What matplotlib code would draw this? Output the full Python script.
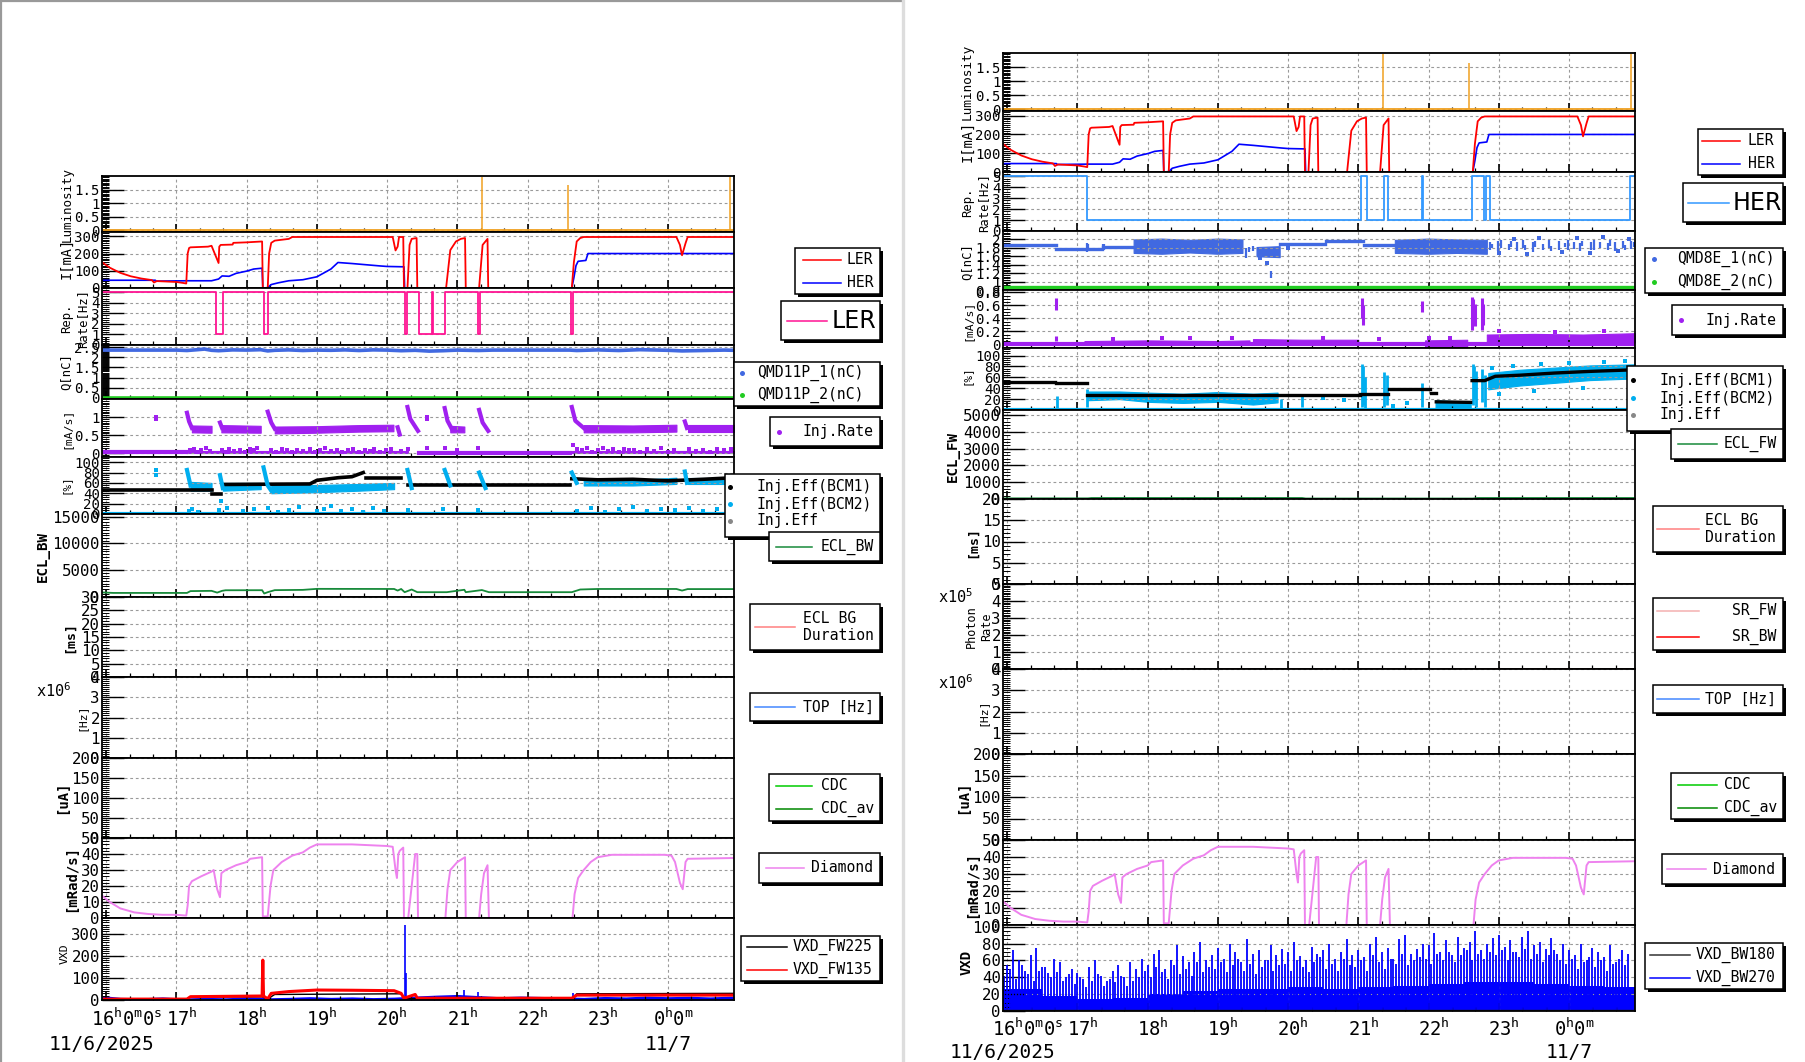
import numpy as np
import matplotlib
matplotlib.use('Agg')
import matplotlib.pyplot as plt
from matplotlib.patches import Rectangle
from matplotlib.ticker import FixedLocator, AutoMinorLocator, MultipleLocator, FuncFormatter

plt.rcParams['font.family'] = ['DejaVu Sans Mono', 'DejaVu Sans']
plt.rcParams['mathtext.default'] = 'regular'

W, H = 1806, 1062
T0, T1 = 15.94, 24.94   # hours, 24.x = after midnight of 11/6

# ---------------- data (time [h], value) ----------------
lum_base = [(15.94, 0.0), (24.94, 0.0)]
lum_spike_t = [21.35, 22.58, 24.88]
lum_spike_v = [1.95, 1.65, 1.95]

ler = [(15.94,150),(16.05,118),(16.2,88),(16.35,68),(16.5,55),(16.65,46),(16.68,32),(16.72,40),
       (17.0,35),(17.1,29),(17.14,26),(17.16,200),(17.18,232),(17.2,236),(17.45,240),(17.5,245),
       (17.55,195),(17.6,145),(17.61,240),(17.63,250),(17.8,252),(17.81,262),(18.0,265),(18.22,270),
       (18.23,0),(18.3,0),(18.32,200),(18.35,262),(18.4,275),(18.6,285),(18.65,296),(20.08,296),
       (20.12,218),(20.15,240),(20.17,296),(20.23,296),(20.24,0),(20.29,0),(20.32,250),(20.35,285),
       (20.42,290),(20.43,0),(20.84,0),(20.9,220),(20.98,270),(21.05,285),(21.11,290),(21.12,0),
       (21.31,0),(21.36,250),(21.43,285),(21.44,0),(22.63,0),(22.66,150),(22.7,270),(22.75,290),
       (22.8,296),(24.12,296),(24.17,250),(24.2,190),(24.25,260),(24.28,296),(24.94,296)]
her = [(15.94,45),(16.7,45),(16.71,40),(17.15,42),(17.5,42),(17.6,52),(17.65,70),(17.75,68),
       (17.85,85),(18.0,98),(18.1,110),(18.22,115),(18.23,0),(18.3,2),(18.35,20),(18.45,30),
       (18.6,42),(18.8,48),(19.0,65),(19.2,110),(19.3,148),(19.5,142),(19.9,128),(20.0,125),
       (20.24,123),(20.25,0),(22.63,0),(22.66,60),(22.69,130),(22.72,155),(22.83,160),(22.86,200),
       (24.94,200)]

rep_ler = [(15.94,5),(17.56,1),(17.66,5),(18.24,1),(18.31,5),(20.26,1),(20.29,5),(20.45,1),(20.64,5),
           (20.66,1),(20.82,5),(21.30,1),(21.32,5),(22.62,1),(22.65,5),(24.94,5)]
rep_her = [(15.94,5),(17.13,1),(21.04,5),(21.12,1),(21.37,5),(21.42,1),(21.90,5),(21.92,1),(22.62,5),
           (22.79,1),(22.82,5),(22.87,1),(24.87,5),(24.94,5)]

# QMD11P (left)
qmd11p_1 = [(15.94,2.35),(16.5,2.35),(17.0,2.35),(17.15,2.33),(17.3,2.37),(17.4,2.40),(17.5,2.34),
            (17.6,2.32),(17.8,2.36),(18.0,2.35),(18.2,2.37),(18.3,2.31),(18.4,2.34),(18.6,2.36),
            (18.8,2.33),(19.0,2.35),(19.2,2.34),(19.4,2.36),(19.6,2.33),(19.8,2.36),(20.0,2.35),
            (20.2,2.32),(20.4,2.34),(20.6,2.30),(20.8,2.32),(21.0,2.35),(21.3,2.33),(21.5,2.35),
            (22.0,2.35),(22.6,2.35),(22.7,2.33),(23.0,2.36),(23.3,2.33),(23.6,2.37),(24.0,2.34),
            (24.2,2.31),(24.5,2.33),(24.8,2.35),(24.94,2.34)]
qmd11p_2 = [(15.94,0.0),(24.94,0.0)]

# QMD8E (right)
qmd8e_1_lines = [[(15.94,1.86),(16.69,1.86)], [(16.70,1.78),(17.35,1.78)], [(17.36,1.82),(17.80,1.82)],
                 [(19.88,1.89),(20.53,1.89)], [(20.54,1.96),(21.07,1.96)], [(21.08,1.86),(21.52,1.86)]]
qmd8e_1_bands = [[(17.80,1.68,2.00),(18.2,1.66,2.02),(18.6,1.69,1.99),(19.0,1.66,2.02),(19.35,1.68,2.00)],
                 [(19.55,1.60,1.82),(19.88,1.58,1.84)],
                 [(21.52,1.68,1.99),(22.0,1.66,2.02),(22.4,1.68,2.00),(22.83,1.66,1.99)]]
qmd8e_1_strokes = [(17.13,1.70,1.92),(17.15,1.72,1.88),(17.36,1.74,1.90),(17.38,1.76,1.88),(19.40,1.55,1.80),
                   (19.45,1.70,1.82),(19.50,1.72,1.84),(19.76,1.08,1.25),(22.88,1.75,1.95),(22.91,1.80,1.90),
                   (22.99,1.72,1.96),(23.03,1.80,1.98),(23.14,1.74,1.90),(23.17,1.82,1.96),(23.26,1.72,1.93),
                   (23.35,1.80,1.98),(23.38,1.75,1.86),(23.49,1.70,1.95),(23.52,1.82,1.97),(23.63,1.74,1.90),
                   (23.71,1.80,1.99),(23.74,1.72,1.84),(23.86,1.76,1.96),(23.95,1.82,1.92),(23.98,1.74,1.98),
                   (24.07,1.78,1.95),(24.16,1.72,1.92),(24.19,1.84,1.97),(24.31,1.76,1.94),(24.36,1.74,1.99),
                   (24.44,1.80,1.95),(24.55,1.75,1.92),(24.58,1.84,1.98),(24.66,1.72,1.95),(24.77,1.80,1.97),
                   (24.80,1.76,1.86),(24.88,1.78,1.96),(24.92,1.82,1.94)]
qmd8e_1_pts = [(19.6,1.55),(19.7,1.45),(23.0,1.68),(23.4,1.65),(23.9,1.70),(24.3,1.68),(24.7,1.72),(20.0,1.80),
               (23.21,2.02),(23.58,2.04),(24.12,2.03),(24.49,2.05),(24.85,2.02)]
qmd8e_2 = [(15.94,0.86),(24.94,0.86)]

# Injection rate LER (left)
irl_low_lines = [[(15.94,0.03),(17.14,0.03)], [(20.45,0.02),(22.60,0.02)]]
irl_bands = [[(17.22,0.58,0.77),(17.50,0.57,0.76)],
             [(17.64,0.58,0.78),(18.20,0.57,0.76)],
             [(18.40,0.55,0.74),(19.0,0.57,0.75),(19.6,0.60,0.78),(20.09,0.61,0.79)],
             [(20.90,0.58,0.76),(21.10,0.58,0.74)],
             [(22.80,0.58,0.78),(23.5,0.58,0.77),(24.12,0.60,0.79)],
             [(24.28,0.60,0.79),(24.94,0.60,0.79)],
             [(17.15,0.0,0.06),(20.30,0.0,0.06)],
             [(22.63,0.0,0.07),(24.94,0.0,0.07)]]
irl_decays = [[(17.15,1.12),(17.18,0.88),(17.22,0.70)], [(17.62,0.85),(17.65,0.70)],
              [(18.30,1.15),(18.35,0.85),(18.40,0.68)], [(20.15,0.72),(20.18,0.52)],
              [(20.29,1.28),(20.33,0.95),(20.44,0.62)], [(20.82,1.25),(20.86,0.90),(20.92,0.68)],
              [(21.31,1.20),(21.36,0.85),(21.44,0.62)], [(22.63,1.28),(22.68,0.90),(22.80,0.70)],
              [(24.24,0.88),(24.27,0.70)]]
irl_pts = [(16.71,1.0),(16.71,0.94),(20.57,1.0),(20.57,0.94),
           (17.2,0.08),(17.25,0.12),(17.3,0.05),(17.35,0.10),(17.42,0.14),(17.48,0.06),(17.65,0.10),
           (17.7,0.04),(17.75,0.12),(17.82,0.07),(17.9,0.10),(17.97,0.05),(18.05,0.13),(18.1,0.08),
           (18.15,0.16),(18.35,0.10),(18.42,0.05),(18.5,0.12),(18.57,0.08),(18.65,0.03),(18.72,0.10),
           (18.8,0.06),(18.9,0.12),(18.97,0.04),(19.05,0.09),(19.12,0.14),(19.2,0.06),(19.28,0.10),
           (19.36,0.03),(19.45,0.08),(19.52,0.13),(19.6,0.05),(19.68,0.10),(19.75,0.07),(19.82,0.12),
           (19.9,0.04),(19.98,0.09),(20.05,0.11),(20.2,0.06),(20.3,0.12),(20.57,0.15),(20.82,0.14),
           (21.0,0.08),(21.3,0.14),(22.65,0.22),(22.7,0.12),(22.78,0.08),(22.85,0.14),(22.92,0.05),
           (23.0,0.10),(23.08,0.16),(23.15,0.06),(23.22,0.11),(23.3,0.03),(23.38,0.13),(23.45,0.08),
           (23.52,0.10),(23.6,0.04),(23.7,0.12),(23.8,0.07),(23.9,0.14),(24.0,0.05),(24.08,0.10),
           (24.3,0.12),(24.4,0.06),(24.5,0.10),(24.6,0.04),(24.7,0.13),(24.8,0.08),(24.9,0.11)]

# Injection rate HER (right)
irr_line = [(15.94,0.01),(24.94,0.01)]
irr_bands = [[(17.10,0.0,0.05),(18.0,0.0,0.06),(19.0,0.0,0.05),(19.45,0.0,0.06)],
             [(19.50,0.01,0.08),(20.2,0.01,0.07),(21.0,0.02,0.07)],
             [(21.95,-0.03,0.06),(22.55,-0.03,0.07)],
             [(22.83,0.02,0.15),(23.5,0.03,0.16),(24.2,0.02,0.15),(24.94,0.03,0.17)]]
irr_strokes = [(16.70,0.53,0.71),(16.70,0.05,0.12),(21.05,0.40,0.71),(21.07,0.30,0.60),(21.90,0.50,0.66),
               (22.62,0.22,0.73),(22.64,0.35,0.70),(22.66,0.28,0.62),(22.76,0.22,0.71),(22.78,0.30,0.62)]
irr_pts = [(17.5,0.08),(18.2,0.10),(18.6,0.09),(19.2,0.10),(20.5,0.10),(21.3,0.08),(22.0,0.10),
           (22.3,0.09),(23.0,0.20),(23.8,0.19),(24.5,0.20)]

# Injection efficiency LER (left)
effl_bcm1 = [[(15.94,47),(17.50,47)], [(17.51,39),(17.64,39)],
             [(17.66,57),(18.9,58),(19.0,65),(19.3,70),(19.5,72),(19.66,80)],
             [(19.70,70),(20.20,70)], [(20.30,56),(22.61,56)],
             [(22.63,68),(23.0,66),(23.5,67),(24.0,64),(24.5,67),(24.94,70)]]
effl_bcm2_bands = [[(17.20,45,62),(17.50,45,60)], [(17.66,45,60),(18.20,48,60)],
                   [(18.35,40,55),(19.0,42,56),(19.6,45,58),(20.10,48,60)],
                   [(22.80,55,66),(23.5,55,66),(24.12,58,70)], [(24.28,58,70),(24.94,58,70)]]
effl_bcm2_decays = [[(17.15,85),(17.20,55)], [(17.62,75),(17.66,50)], [(18.24,90),(18.30,55),(18.35,45)],
                    [(20.29,85),(20.35,50)], [(20.82,85),(20.90,55)], [(21.31,80),(21.40,50)],
                    [(22.63,80),(22.70,60)], [(24.24,82),(24.27,60)]]
effl_bcm2_low = [(16.71,85),(16.71,76),(17.64,25),(17.18,5),(17.22,10),(17.3,3),(17.6,8),(17.72,12),
                 (17.95,6),(18.1,9),(18.3,12),(18.45,4),(18.6,8),(18.75,14),(19.0,6),(19.1,10),(19.2,16),
                 (19.35,5),(19.5,9),(19.65,4),(19.8,12),(19.95,6),(20.3,8),(20.8,10),(21.3,8),(22.7,6),
                 (22.9,12),(23.1,4),(23.3,9),(23.5,14),(23.7,5),(23.9,10),(24.1,7),(24.3,12),(24.5,5),
                 (24.7,9),(24.85,13)]
effl_base = [(15.94,0.8),(24.94,0.8)]

# Injection efficiency HER (right)
effr_bcm1 = [[(15.94,52),(16.68,52)], [(16.69,50),(17.13,50)], [(17.14,28),(21.02,28)],
             [(21.03,30),(21.42,30)], [(21.43,39),(22.02,39)], [(22.03,31),(22.10,31)],
             [(22.11,15),(22.60,14)],
             [(22.62,54),(22.80,54),(22.95,62),(23.3,64),(23.8,68),(24.3,71),(24.94,74)]]
effr_bcm2_bands = [[(17.15,18,34),(17.6,20,34),(18.0,15,32),(18.5,13,30),(19.0,15,33),(19.5,10,30),(19.85,14,32)],
                   [(22.10,1,18),(22.60,1,15)],
                   [(22.85,38,68),(23.3,45,74),(23.8,50,78),(24.3,55,82),(24.94,58,84)]]
effr_bcm2_strokes = [(16.71,0,25),(17.14,5,38),(19.9,2,20),(20.2,5,25),(21.05,5,85),(21.07,10,80),
                     (21.09,3,60),(21.37,5,70),(21.41,10,65),(21.91,5,50),(22.63,10,85),(22.65,20,80),
                     (22.68,5,72),(22.76,15,76),(22.80,5,65)]
effr_bcm2_pts = [(22.9,78),(23.2,80),(23.6,84),(24.0,86),(24.5,88),(24.8,90),(23.0,30),(23.5,35),(24.2,40),
                 (20.5,22),(20.8,18),(21.5,8),(21.7,12)]
effr_base = [(15.94,0.8),(24.94,0.8)]

ecl_bw = [(15.94,850),(16.1,760),(17.15,760),(17.2,1100),(17.5,1150),(17.58,820),(17.65,1150),(17.7,1260),
          (18.22,1270),(18.25,650),(18.3,900),(18.4,1280),(18.8,1330),(19.0,1520),(20.1,1500),(20.15,1200),
          (20.2,1500),(20.25,900),(20.35,1400),(20.43,900),(20.85,900),(21.1,1350),(21.12,900),(21.35,1300),
          (21.45,900),(22.63,900),(22.75,1400),(23.0,1500),(24.12,1500),(24.2,1200),(24.28,1480),(24.94,1480)]
ecl_fw = [(15.94,40),(17.15,40),(17.2,60),(20.2,60),(20.25,30),(22.63,30),(22.7,60),(24.94,60)]
sr_bw = [(15.94,0.0),(24.94,0.0)]
cdc_av = [(15.94,0.0),(24.94,0.0)]

diamond = [(15.94,14),(16.05,10),(16.2,6),(16.4,3.5),(16.6,2.5),(16.8,2),(17.0,2),(17.14,1.5),(17.16,8),
           (17.18,20),(17.22,23),(17.35,26),(17.5,29),(17.53,30),(17.58,18),(17.62,13),(17.64,28),(17.7,30),
           (17.85,33),(18.0,35),(18.05,37),(18.22,38),(18.23,1),(18.3,1),(18.34,20),(18.38,30),(18.5,35),
           (18.65,39),(18.8,41),(18.9,44),(19.0,46),(19.5,46),(20.0,45),(20.08,44.5),(20.12,30),(20.14,25),
           (20.16,40),(20.18,42),(20.23,44),(20.24,0),(20.3,0),(20.35,20),(20.4,40),(20.43,40),(20.44,0),
           (20.83,0),(20.86,18),(20.9,30),(21.0,35),(21.11,38),(21.12,0),(21.31,0),(21.34,15),(21.38,28),
           (21.43,33),(21.45,0),(22.64,0),(22.67,15),(22.72,25),(22.8,30),(22.9,35),(23.0,38),(23.2,39.5),
           (23.95,39.5),(24.05,39),(24.1,35),(24.17,22),(24.21,18),(24.25,35),(24.28,37),(24.94,37.5)]

# VXD (left)
vxd_l_blue = [(15.94,20),(16.2,12),(16.5,10),(16.8,14),(17.1,9),(17.4,12),(17.7,10),(18.0,14),(18.3,10),
              (18.6,12),(18.9,15),(19.2,12),(19.5,14),(19.8,11),(20.1,13),(20.4,18),(20.7,22),(21.0,25),
              (21.3,20),(21.6,15),(21.9,18),(22.2,16),(22.5,14),(22.8,12),(23.1,16),(23.4,14),(23.7,18),
              (24.0,15),(24.3,17),(24.6,14),(24.94,18)]
vxd_l_blue_spikes = [(20.25,340),(20.27,120),(18.24,40),(21.1,45),(21.3,35),(22.65,30)]
vxd_fw135 = [(15.94,4),(17.15,4),(17.2,15),(18.22,18),(18.23,180),(18.24,18),(18.3,5),(18.35,30),(18.6,38),
             (19.0,45),(19.5,44),(20.1,42),(20.2,30),(20.24,8),(20.4,25),(20.43,8),(22.63,8),(22.7,22),(24.94,22)]
vxd_fw225 = [(15.94,6),(17.15,6),(17.2,14),(18.22,14),(18.3,5),(18.4,25),(20.2,28),(20.25,6),(22.63,6),
             (22.7,28),(24.94,30)]

# VXD (right): BW270 spikes every 5 min from 16:00 (two interleaved sets), plus base level
vxd_bw270_peak = [55,72,60,48,66,75,52,45,62,58,40,50,
                  45,38,52,60,42,35,48,55,40,58,50,62,
                  55,68,72,50,60,78,65,58,70,82,60,66,
                  75,62,80,70,58,85,68,72,60,78,66,74,
                  70,82,65,60,76,68,72,80,62,70,85,66,
                  72,64,80,88,70,75,62,85,90,68,74,80,
                  78,92,70,84,66,88,75,82,95,72,80,86,
                  90,76,84,70,88,95,78,82,74,86,68,80,
                  72,66,80,60,75,70,64,78,58,72,68]
vxd_bw270_mid = [42,50,38,55,44,36,48,52,40,46,35,44,
                 32,40,28,36,44,30,38,34,42,30,36,40,
                 48,40,52,46,38,55,44,50,42,58,46,52,
                 50,58,46,54,62,48,56,44,52,60,48,54,
                 56,48,60,52,46,58,64,50,56,48,62,54,
                 52,60,48,66,58,50,62,56,68,54,60,64,
                 62,56,68,60,70,58,66,72,60,68,62,70,
                 66,72,60,70,64,74,62,68,58,66,72,60,
                 56,62,50,58,64,52,60,48,56,62,54]
vxd_bw270_base = [(15.94,26),(16.5,18),(17.0,14),(17.5,16),(18.0,20),(18.5,24),(19.0,26),(19.5,26),
                  (20.0,28),(20.5,26),(21.0,28),(21.5,30),(22.0,32),(22.5,34),(23.0,34),(23.5,32),
                  (24.0,30),(24.5,28),(24.94,26)]
vxd_bw180 = [(15.94,1.5),(24.94,1.5)]

# colours
C_LER, C_HER = '#ff0000', '#0000ff'
C_LUM = '#f0a020'
C_REPL, C_REPH = '#ff1493', '#3399ff'
C_Q1, C_Q2 = '#4169e1', '#22cc22'
C_IR = '#a020f0'
C_CY = '#00aeef'
C_ECL = '#178a3a'
C_DIA = '#ee82ee'

# ---------------- helpers ----------------
fig = plt.figure(figsize=(W / 100, H / 100), dpi=100)


def xy(p):
    a = np.asarray(p, float)
    return a[:, 0], a[:, 1]


def panel(x0, x1, ytop, ybot, ylim, ticks, nminor, fs=10.2):
    ax = fig.add_axes([x0 / W, 1 - ybot / H, (x1 - x0) / W, (ybot - ytop) / H])
    ax.set_xlim(T0, T1)
    ax.set_ylim(*ylim)
    ax.xaxis.set_major_locator(MultipleLocator(1))
    ax.xaxis.set_minor_locator(MultipleLocator(1 / 3))
    ax.yaxis.set_major_locator(FixedLocator(ticks))
    ax.yaxis.set_minor_locator(AutoMinorLocator(nminor))
    ax.yaxis.set_major_formatter(FuncFormatter(lambda v, p: '%g' % round(v, 6)))
    ax.tick_params(axis='x', which='major', direction='in', length=6, width=1.2, labelbottom=False)
    ax.tick_params(axis='x', which='minor', direction='in', length=3, width=0.9)
    ax.tick_params(axis='y', which='major', direction='in', length=15.5, width=1.0, pad=1.5, labelsize=fs)
    ax.tick_params(axis='y', which='minor', direction='in', length=5, width=0.7)
    ax.grid(True, which='major', color='#9a9a9a', linestyle=(0, (2.5, 2.5)), linewidth=0.8)
    for s in ax.spines.values():
        s.set_linewidth(1.3)
    return ax


def line(ax, p, color, lw=1.2, **kw):
    t, v = xy(p)
    ax.plot(t, v, color=color, lw=lw, **kw)


def bands(ax, blist, color):
    for b in blist:
        a = np.asarray(b, float)
        ax.fill_between(a[:, 0], a[:, 1], a[:, 2], color=color, lw=0.8)


def strokes(ax, s, color, lw=2.0):
    a = np.asarray(s, float)
    ax.vlines(a[:, 0], a[:, 1], a[:, 2], color=color, lw=lw)


def pts(ax, p, color, ms=2.3):
    t, v = xy(p)
    ax.plot(t, v, 's', color=color, ms=ms, mew=0)


FS_LOW = 11.3


def draw_column(x0, x1, yb, right):
    # luminosity
    ax = panel(x0, x1, yb[0], yb[1], (-0.07, 2.0), [0, 0.5, 1, 1.5], 10)
    line(ax, lum_base, C_LUM, 1.3)
    ax.vlines(lum_spike_t, 0, lum_spike_v, color=C_LUM, lw=1.1)
    # beam currents
    ax = panel(x0, x1, yb[1], yb[2], (0, 325), [0, 100, 200, 300], 10)
    line(ax, her, C_HER, 1.2)
    line(ax, ler, C_LER, 1.3)
    # repetition rate
    ax = panel(x0, x1, yb[2], yb[3], (0, 5.4), [0, 1, 2, 3, 4, 5], 5)
    t, v = xy(rep_her if right else rep_ler)
    ax.plot(t, v, color=C_REPH if right else C_REPL, lw=1.3, drawstyle='steps-post')
    # bunch charge
    if right:
        ax = panel(x0, x1, yb[3], yb[4], (0.8, 2.2), [0.8, 1.0, 1.2, 1.4, 1.6, 1.8, 2.0], 5)
        for seg in qmd8e_1_lines:
            line(ax, seg, C_Q1, 2.4)
        bands(ax, qmd8e_1_bands, C_Q1)
        strokes(ax, qmd8e_1_strokes, C_Q1, 1.6)
        pts(ax, qmd8e_1_pts, C_Q1)
        line(ax, qmd8e_2, C_Q2, 2.4)
    else:
        ax = panel(x0, x1, yb[3], yb[4], (-0.05, 2.6), [0, 0.5, 1, 1.5, 2, 2.5], 10)
        line(ax, qmd11p_1, C_Q1, 2.6)
        line(ax, qmd11p_2, C_Q2, 2.6)
    # injection rate
    if right:
        ax = panel(x0, x1, yb[4], yb[5], (-0.057, 0.835), [0, 0.2, 0.4, 0.6, 0.8], 4)
        line(ax, irr_line, C_IR, 3.0)
        bands(ax, irr_bands, C_IR)
        strokes(ax, irr_strokes, C_IR, 2.2)
        pts(ax, irr_pts, C_IR)
    else:
        ax = panel(x0, x1, yb[4], yb[5], (-0.1, 1.5), [0, 0.5, 1], 10)
        for seg in irl_low_lines:
            line(ax, seg, C_IR, 3.0)
        bands(ax, irl_bands, C_IR)
        for seg in irl_decays:
            line(ax, seg, C_IR, 3.0)
        pts(ax, irl_pts, C_IR, 2.6)
    # injection efficiency
    if right:
        ax = panel(x0, x1, yb[5], yb[6], (0, 114), [0, 20, 40, 60, 80, 100], 5)
        bands(ax, effr_bcm2_bands, C_CY)
        strokes(ax, effr_bcm2_strokes, C_CY, 2.0)
        pts(ax, effr_bcm2_pts, C_CY, 2.6)
        for seg in effr_bcm1:
            line(ax, seg, 'black', 2.4)
        line(ax, effr_base, C_CY, 3.0)
    else:
        ax = panel(x0, x1, yb[5], yb[6], (0, 110), [0, 20, 40, 60, 80, 100], 5)
        for seg in effl_bcm1:
            line(ax, seg, 'black', 2.6)
        bands(ax, effl_bcm2_bands, C_CY)
        for seg in effl_bcm2_decays:
            line(ax, seg, C_CY, 3.0)
        pts(ax, effl_bcm2_low, C_CY, 2.6)
        line(ax, effl_base, C_CY, 3.0)
    # ECL
    if right:
        ax = panel(x0, x1, yb[6], yb[7], (0, 5300), [0, 1000, 2000, 3000, 4000, 5000], 5, fs=FS_LOW)
        line(ax, ecl_fw, C_ECL, 1.3)
    else:
        ax = panel(x0, x1, yb[6], yb[7], (0, 15500), [0, 5000, 10000, 15000], 10, fs=FS_LOW)
        line(ax, ecl_bw, C_ECL, 1.3)
    k = 7
    # ECL BG duration
    ax = panel(x0, x1, yb[k], yb[k + 1], (0, 20 if right else 30),
               [0, 5, 10, 15, 20] if right else [0, 5, 10, 15, 20, 25, 30], 5, fs=FS_LOW)
    k += 1
    if right:
        ax = panel(x0, x1, yb[k], yb[k + 1], (0, 5), [0, 1, 2, 3, 4, 5], 10, fs=FS_LOW)
        line(ax, sr_bw, '#ff0000', 1.3)
        k += 1
    # TOP
    ax = panel(x0, x1, yb[k], yb[k + 1], (0, 4), [0, 1, 2, 3, 4], 10, fs=FS_LOW)
    k += 1
    # CDC
    ax = panel(x0, x1, yb[k], yb[k + 1], (0, 200), [0, 50, 100, 150, 200], 10, fs=FS_LOW)
    line(ax, cdc_av, '#008800', 2.2)
    k += 1
    # diamond
    ax = panel(x0, x1, yb[k], yb[k + 1], (0, 50), [0, 10, 20, 30, 40, 50], 5, fs=FS_LOW)
    line(ax, diamond, C_DIA, 1.4)
    k += 1
    # VXD
    if right:
        ax = panel(x0, x1, yb[k], yb[k + 1], (0, 102), [0, 20, 40, 60, 80, 100], 4, fs=FS_LOW)
        tb, vb = xy(vxd_bw270_base)
        ax.fill_between(tb, 0, vb, step='post', color='#0000ff', lw=0)
        tp = 16.0 + np.arange(len(vxd_bw270_peak)) / 12.0
        ax.vlines(tp, 0, vxd_bw270_peak, color='#0000ff', lw=1.3)
        ax.vlines(tp - 1 / 24.0, 0, vxd_bw270_mid, color='#0000ff', lw=1.3)
        line(ax, vxd_bw180, '#222222', 1.0)
    else:
        ax = panel(x0, x1, yb[k], yb[k + 1], (0, 370), [0, 100, 200, 300], 10, fs=FS_LOW)
        tb, vb = xy(vxd_l_blue)
        ax.fill_between(tb, 0, vb, color='#0000ff', lw=0)
        t, v = xy(vxd_l_blue_spikes)
        ax.vlines(t, 0, v, color='#0000ff', lw=1.2)
        line(ax, vxd_fw225, 'black', 1.0)
        line(ax, vxd_fw135, '#ff0000', 2.2)


left_bounds = [176, 232, 288, 345, 399, 457, 514, 597, 677, 758, 838, 918, 1000]
right_bounds = [53, 111, 172, 231, 290, 348, 410, 499, 584, 669, 754, 840, 925, 1011]
LX0, LX1 = 102, 734
RX0, RX1 = 1003, 1635
draw_column(LX0, LX1, left_bounds, False)
draw_column(RX0, RX1, right_bounds, True)

# ---------------- overlay: labels, legends, frame ----------------
ov = fig.add_axes([0, 0, 1, 1], zorder=20)
ov.set_xlim(0, W)
ov.set_ylim(H, 0)
ov.axis('off')

ov.plot([1, 1], [0, H], color='#999999', lw=1.6)
ov.plot([0, 903], [1, 1], color='#999999', lw=1.6)
ov.plot([903.5, 903.5], [0, H], color='#dddddd', lw=2.4)


def vlabel(s, x, y, fs, bold=False):
    ov.text(x, y, s, rotation=90, ha='center', va='center', fontsize=fs,
            fontweight='bold' if bold else 'normal')


for s, x, y, fs, b in [('Luminosity', 67, 204, 9, False), ('I[mA]', 66, 258, 9.8, False),
                       ('Rep.', 67, 318, 8.8, False), ('Rate[Hz]', 83, 318, 8.8, False),
                       ('Q[nC]', 66, 372, 8.8, False), ('[mA/s]', 66, 428, 8.2, False),
                       ('[%]', 66, 484, 7.8, False), ('ECL_BW', 43, 556, 10.2, True),
                       ('[ms]', 69, 637, 9.5, True), ('[Hz]', 81, 717, 8.2, False),
                       ('[uA]', 62, 797, 10, True), ('[mRad/s]', 71, 878, 10, True),
                       ('VXD', 65, 954, 8.2, False),
                       ('Luminosity', 967, 82, 9.2, False), ('I[mA]', 967, 141, 9.8, False),
                       ('Rep.', 968, 202, 8.8, False), ('Rate[Hz]', 984, 202, 8.8, False),
                       ('Q[nC]', 967, 262, 8.8, False), ('[mA/s]', 967, 320, 8.2, False),
                       ('[%]', 967, 375, 7.8, False), ('ECL_FW', 953, 456, 10.2, True),
                       ('[ms]', 972, 542, 9.5, True), ('Photon', 971, 627, 8.5, False),
                       ('Rate', 987, 627, 8.5, False), ('[Hz]', 982, 712, 8.2, False),
                       ('[uA]', 963, 797, 10, True), ('[mRad/s]', 972, 884, 10, True),
                       ('VXD', 967, 962, 10, True)]:
    vlabel(s, x, y, fs, b)

ov.text(54, 691, r'x10$^{6}$', ha='center', va='center', fontsize=11)
ov.text(956, 597, r'x10$^{5}$', ha='center', va='center', fontsize=11)
ov.text(956, 683, r'x10$^{6}$', ha='center', va='center', fontsize=11)

# time axis labels
hour_labels = [r'$16^h0^m0^s$', r'$17^h$', r'$18^h$', r'$19^h$', r'$20^h$', r'$21^h$',
               r'$22^h$', r'$23^h$', r'$0^h0^m$']
for x0, x1, ylab, ydate in [(LX0, LX1, 1019, 1044), (RX0, RX1, 1029, 1053)]:
    for i, lab in enumerate(hour_labels):
        px = x0 + (16 + i - T0) / (T1 - T0) * (x1 - x0)
        px += 20 if i == 0 else 5
        ov.text(px, ylab, lab, ha='center', va='center', fontsize=13.5)
    ov.text(x0, ydate, '11/6/2025', ha='center', va='center', fontsize=14)
    px0 = x0 + (24 - T0) / (T1 - T0) * (x1 - x0)
    ov.text(px0, ydate, '11/7', ha='center', va='center', fontsize=14)


def legend_box(x0, y0, x1, y1, rows, sx0, sx1, tx, fs=10.6, family=None, ys=None):
    ov.add_patch(Rectangle((x0 + 3, y0 + 3), x1 - x0, y1 - y0, facecolor='black', edgecolor='none'))
    ov.add_patch(Rectangle((x0, y0), x1 - x0, y1 - y0, facecolor='white', edgecolor='black', lw=1.1))
    n = len(rows)
    for i, (kind, color, label) in enumerate(rows):
        yc = ys[i] if ys else y0 + (i + 0.5) * (y1 - y0) / n
        if kind == 'line':
            ov.plot([sx0, sx1], [yc, yc], color=color, lw=1.1)
        else:
            ov.plot([sx0], [yc], 'o', color=color, ms=3.6, mew=0)
        kw = {}
        if family:
            kw['family'] = family
        ov.text(tx, yc, label, ha='left', va='center', fontsize=fs, linespacing=1.1, **kw)


# left legends
legend_box(795, 248, 880, 294, [('line', C_LER, 'LER'), ('line', C_HER, 'HER')], 803, 841, 847)
legend_box(781, 301, 880, 340, [('line', C_REPL, 'LER')], 787, 827, 832, fs=17, family='DejaVu Sans')
legend_box(734, 362, 880, 406, [('dot', C_Q1, 'QMD11P_1(nC)'), ('dot', C_Q2, 'QMD11P_2(nC)')], 742, 742, 757)
legend_box(770, 417, 880, 446, [('dot', C_IR, 'Inj.Rate')], 779, 779, 803)
legend_box(725, 474, 880, 537, [('dot', 'black', 'Inj.Eff(BCM1)'), ('dot', C_CY, 'Inj.Eff(BCM2)'),
                                ('dot', '#888888', 'Inj.Eff')], 730, 730, 757, ys=[487, 504, 521])
legend_box(769, 532, 880, 561, [('line', C_ECL, 'ECL_BW')], 776, 812, 821)
legend_box(750, 604, 880, 650, [('line', '#ff8080', 'ECL BG\nDuration')], 755, 795, 803)
legend_box(750, 693, 880, 721, [('line', '#4488ff', 'TOP [Hz]')], 755, 795, 803)
legend_box(769, 774, 880, 821, [('line', '#00cc00', 'CDC'), ('line', '#008800', 'CDC_av')], 776, 812, 821)
legend_box(759, 853, 880, 883, [('line', C_DIA, 'Diamond')], 766, 804, 811)
legend_box(741, 936, 880, 981, [('line', 'black', 'VXD_FW225'), ('line', '#ff0000', 'VXD_FW135')], 747, 787, 793)

# right legends
legend_box(1698, 129, 1783, 175, [('line', C_LER, 'LER'), ('line', C_HER, 'HER')], 1702, 1740, 1748)
legend_box(1683, 183, 1783, 222, [('line', C_REPH, 'HER')], 1688, 1729, 1733, fs=17, family='DejaVu Sans')
legend_box(1645, 248, 1783, 293, [('dot', C_Q1, 'QMD8E_1(nC)'), ('dot', C_Q2, 'QMD8E_2(nC)')], 1654, 1654, 1677)
legend_box(1672, 305, 1783, 335, [('dot', C_IR, 'Inj.Rate')], 1681, 1681, 1706)
legend_box(1627, 366, 1783, 431, [('dot', 'black', 'Inj.Eff(BCM1)'), ('dot', C_CY, 'Inj.Eff(BCM2)'),
                                  ('dot', '#888888', 'Inj.Eff')], 1633, 1633, 1660, ys=[380, 398, 415])
legend_box(1671, 429, 1783, 459, [('line', C_ECL, 'ECL_FW')], 1678, 1717, 1724)
legend_box(1653, 506, 1783, 552, [('line', '#ff8080', 'ECL BG\nDuration')], 1657, 1699, 1705)
legend_box(1653, 598, 1783, 650, [('line', '#f4b0b0', 'SR_FW'), ('line', '#ff0000', 'SR_BW')], 1657, 1699, 1732)
legend_box(1653, 685, 1783, 713, [('line', '#4488ff', 'TOP [Hz]')], 1657, 1699, 1705)
legend_box(1671, 773, 1783, 819, [('line', '#00cc00', 'CDC'), ('line', '#008800', 'CDC_av')], 1678, 1717, 1724)
legend_box(1662, 854, 1783, 884, [('line', C_DIA, 'Diamond')], 1667, 1706, 1713)
legend_box(1645, 943, 1783, 989, [('line', '#333333', 'VXD_BW180'), ('line', '#0000ff', 'VXD_BW270')], 1650, 1690, 1696)

fig.savefig('out.png', dpi=100)
